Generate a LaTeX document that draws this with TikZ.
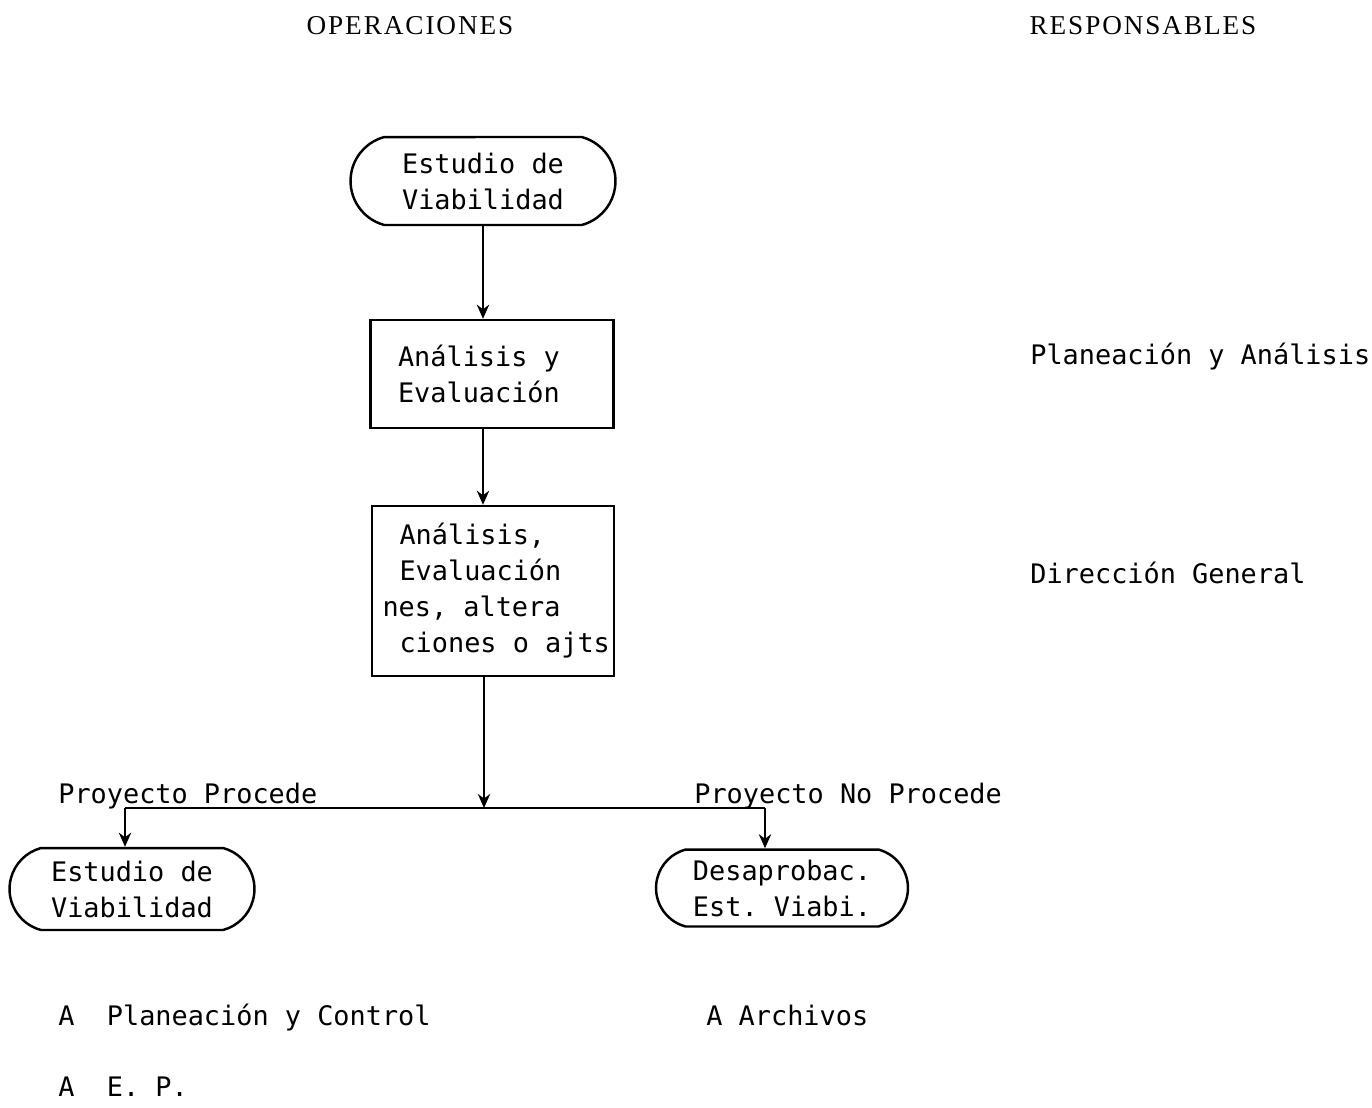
\documentclass[tikz,border=0pt]{standalone}
\usepackage{fontspec}
\usetikzlibrary{shapes.misc,arrows.meta}
\newfontfamily\tw{DejaVu Sans Mono}
\newfontfamily\hd{Liberation Serif}[LetterSpace=7]
\newcommand\natsp{\spaceskip=0pt\relax\xspaceskip=0pt\relax}
\begin{document}
\begin{tikzpicture}[x=0.02cm,y=-0.02cm,
  txt/.style={font=\tw\fontsize{15.3}{20.5}\selectfont\frenchspacing, inner sep=0pt},
  term/.style={txt, rounded rectangle, rounded rectangle arc length=150, draw, line width=1.4pt, align=center},
  procbox/.style={txt, rectangle, draw, line width=1.4pt, align=left, inner xsep=0.55cm},
  arr/.style={line width=1.3pt, -{Stealth[length=8pt,width=7pt]}},
  ln/.style={line width=1.3pt},
  head/.style={font=\hd\fontsize{15.5}{18}\selectfont, inner sep=0pt}
]
\useasboundingbox (0,0) rectangle (1372,1107);

\node[head] (hop) at (410,26) {OPERACIONES};
\node[head] (hres) at (1143,26) {RESPONSABLES};

\node[term, minimum width=5.3cm, minimum height=1.76cm] (t1) at (483,181) {\natsp\mbox{Estudio de}\\\mbox{Viabilidad}};
\node[procbox, text width=3.76cm, minimum height=2.16cm] (b1) at (492,374) {\natsp\mbox{Análisis y}\\\mbox{Evaluación}};
\node[procbox, text width=3.74cm, minimum height=3.4cm] (b2) at (493,591) {\natsp\mbox{Análisis,}\\\mbox{Evaluación}\\\hspace*{-0.34cm}\mbox{nes, altera}\\\mbox{ciones o ajts}};

\node[term, minimum width=4.9cm, minimum height=1.64cm] (t2) at (132,889) {\natsp\mbox{Estudio de}\\\mbox{Viabilidad}};
\node[term, minimum width=5.04cm, minimum height=1.54cm] (t3) at (782,888) {\natsp\mbox{Desaprobac.}\\\mbox{Est. Viabi.}};

\coordinate (j) at (484,808);
\coordinate (jl) at (125,808);
\coordinate (jr) at (765,808);

\draw[arr] (t1.south) -- (b1.north -| t1.south);
\draw[arr] (b1.south -| t1.south) -- (b2.north -| t1.south);
\draw[arr] (b2.south -| j) -- (j);
\draw[ln] (jl) -- (jr);
\draw[arr] (jl) -- (jl |- t2.north);
\draw[arr] (jr) -- (jr |- t3.north);

\node[txt, anchor=base west] (lp) at (58,803) {Proyecto Procede};
\node[txt, anchor=base west] (lnp) at (694,803) {Proyecto No Procede};

\node[txt, anchor=base west] (r1) at (1030,364) {Planeación y Análisis};
\node[txt, anchor=base west] (r2) at (1030,583) {Dirección General};

\node[txt, anchor=base west] (a1) at (58,1025) {A~~Planeación y Control};
\node[txt, anchor=base west] (a2) at (706,1025) {A Archivos};
\node[txt, anchor=base west] (a3) at (58,1096) {A~~E. P.};
\end{tikzpicture}
\end{document}
